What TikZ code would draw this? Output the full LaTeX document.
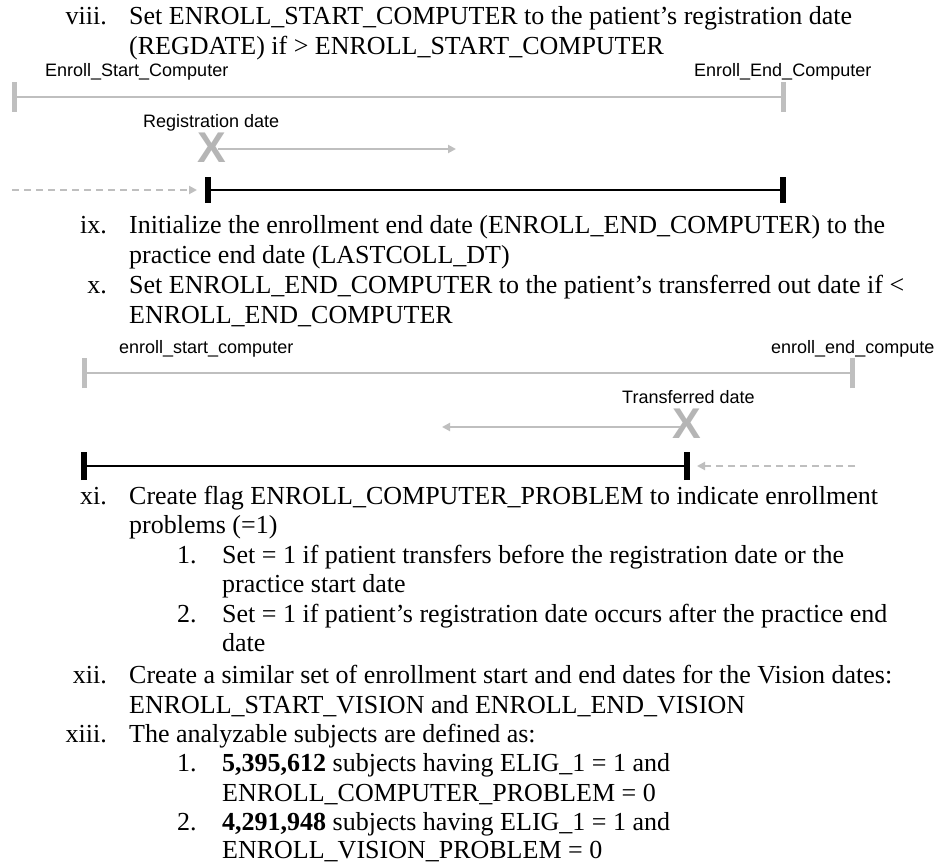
\documentclass[tikz,border=0pt]{standalone}
\usepackage{fontspec}
\setmainfont{Liberation Serif}
\newfontfamily\arialf{Liberation Sans}
\usetikzlibrary{arrows.meta}
\definecolor{lgray}{HTML}{BFBFBF}
\definecolor{xgray}{HTML}{B5B5B5}
\newcommand{\bodyfont}{\fontsize{26}{30}\selectfont}
\newcommand{\labfont}{\arialf\fontsize{18}{21}\selectfont}
\newcommand{\xfont}{\arialf\bfseries\fontsize{43}{45}\selectfont}
\tikzset{
  txt/.style={font=\bodyfont, anchor=base west, inner sep=0pt},
  num/.style={font=\bodyfont, anchor=base east, inner sep=0pt},
  subnum/.style={font=\bodyfont, anchor=base west, inner sep=0pt},
  lbl/.style={font=\labfont, anchor=base west, inner sep=0pt},
  xmark/.style={font=\xfont, text=xgray, inner sep=0pt},
  grayline/.style={draw=lgray, line width=2pt},
  graytick/.style={draw=lgray, line width=5pt},
  blackline/.style={draw=black, line width=2.4pt},
  blacktick/.style={draw=black, line width=5.5pt},
  grayarrow/.style={draw=lgray, line width=2pt, -{Triangle[length=8pt,width=8pt]}},
  dasharrow/.style={draw=lgray, line width=2pt, dash pattern=on 7pt off 5pt, -{Triangle[length=8pt,width=8pt]}}
}
\begin{document}
\begin{tikzpicture}[x=1pt,y=-1pt]
\useasboundingbox (0,0) rectangle (936,866);
\fill[white] (0,0) rectangle (936,866);

% ---- item viii
\node[num] (n8) at (107,25) {viii.};
\node[txt] (t8a) at (129,25) {Set ENROLL\_START\_COMPUTER to the patient’s registration date};
\node[txt] (t8b) at (129,54.7) {(REGDATE) if > ENROLL\_START\_COMPUTER};

% ---- diagram 1
\node[lbl] (l1s) at (45,77) {Enroll\_Start\_Computer};
\node[lbl] (l1e) at (694,77) {Enroll\_End\_Computer};
\coordinate (g1l) at (14,97);
\coordinate (g1r) at (783,97);
\draw[grayline] (g1l) -- (g1r);
\draw[graytick] ([yshift=-15pt]g1l) -- ([yshift=15pt]g1l);
\draw[graytick] ([yshift=-15pt]g1r) -- ([yshift=15pt]g1r);

\node[lbl] (lreg) at (143,128) {Registration date};
\node[xmark] (xreg) at (212,148) {X};
\coordinate (ra1) at (218,149);
\coordinate (ra2) at (456,149);
\draw[grayarrow] (ra1) -- (ra2);

\coordinate (b1l) at (208,190);
\coordinate (b1r) at (783,190);
\draw[blackline] (b1l) -- (b1r);
\draw[blacktick] ([yshift=-13pt]b1l) -- ([yshift=13pt]b1l);
\draw[blacktick] ([yshift=-13pt]b1r) -- ([yshift=13pt]b1r);
\coordinate (d1s) at (12,190);
\coordinate (d1e) at (197,190);
\draw[dasharrow] (d1s) -- (d1e);

% ---- items ix, x
\node[num] (n9) at (107,234) {ix.};
\node[txt] (t9a) at (129,234) {Initialize the enrollment end date (ENROLL\_END\_COMPUTER) to the};
\node[txt] (t9b) at (129,263.7) {practice end date (LASTCOLL\_DT)};
\node[num] (n10) at (107,293.4) {x.};
\node[txt] (t10a) at (129,293.4) {Set ENROLL\_END\_COMPUTER to the patient’s transferred out date if <};
\node[txt] (t10b) at (129,323.1) {ENROLL\_END\_COMPUTER};

% ---- diagram 2
\node[lbl] (l2s) at (119,353) {enroll\_start\_computer};
\node[lbl] (l2e) at (771,353) {enroll\_end\_compute};
\coordinate (g2l) at (84,373);
\coordinate (g2r) at (852,373);
\draw[grayline] (g2l) -- (g2r);
\draw[graytick] ([yshift=-15pt]g2l) -- ([yshift=15pt]g2l);
\draw[graytick] ([yshift=-15pt]g2r) -- ([yshift=15pt]g2r);

\node[lbl] (ltr) at (622,403) {Transferred date};
\node[xmark] (xtr) at (687,424) {X};
\coordinate (ta1) at (680,427);
\coordinate (ta2) at (442,427);
\draw[grayarrow] (ta1) -- (ta2);

\coordinate (b2l) at (84,466);
\coordinate (b2r) at (687,466);
\draw[blackline] (b2l) -- (b2r);
\draw[blacktick] ([yshift=-14pt]b2l) -- ([yshift=14pt]b2l);
\draw[blacktick] ([yshift=-14pt]b2r) -- ([yshift=14pt]b2r);
\coordinate (d2s) at (855,466);
\coordinate (d2e) at (697,466);
\draw[dasharrow] (d2s) -- (d2e);

% ---- items xi - xiii
\node[num] (n11) at (107,504) {xi.};
\node[txt] (t11a) at (129,504) {Create flag ENROLL\_COMPUTER\_PROBLEM to indicate enrollment};
\node[txt] (t11b) at (129,533.5) {problems (=1)};
\node[subnum] (n11a) at (177,563) {1.};
\node[txt] (t11c) at (222,563) {Set = 1 if patient transfers before the registration date or the};
\node[txt] (t11d) at (222,592.5) {practice start date};
\node[subnum] (n11b) at (177,622) {2.};
\node[txt] (t11e) at (222,622) {Set = 1 if patient’s registration date occurs after the practice end};
\node[txt] (t11f) at (222,651.5) {date};
\node[num] (n12) at (107,683) {xii.};
\node[txt] (t12a) at (129,683) {Create a similar set of enrollment start and end dates for the Vision dates:};
\node[txt] (t12b) at (129,713) {ENROLL\_START\_VISION and ENROLL\_END\_VISION};
\node[num] (n13) at (107,742.5) {xiii.};
\node[txt] (t13a) at (129,742.5) {The analyzable subjects are defined as:};
\node[subnum] (n13a) at (177,771.5) {1.};
\node[txt] (t13b) at (222,771.5) {\textbf{5,395,612} subjects having ELIG\_1 = 1 and};
\node[txt] (t13c) at (222,801) {ENROLL\_COMPUTER\_PROBLEM = 0};
\node[subnum] (n13b) at (177,830) {2.};
\node[txt] (t13d) at (222,830) {\textbf{4,291,948} subjects having ELIG\_1 = 1 and};
\node[txt] (t13e) at (222,858.5) {ENROLL\_VISION\_PROBLEM = 0};
\end{tikzpicture}
\end{document}
